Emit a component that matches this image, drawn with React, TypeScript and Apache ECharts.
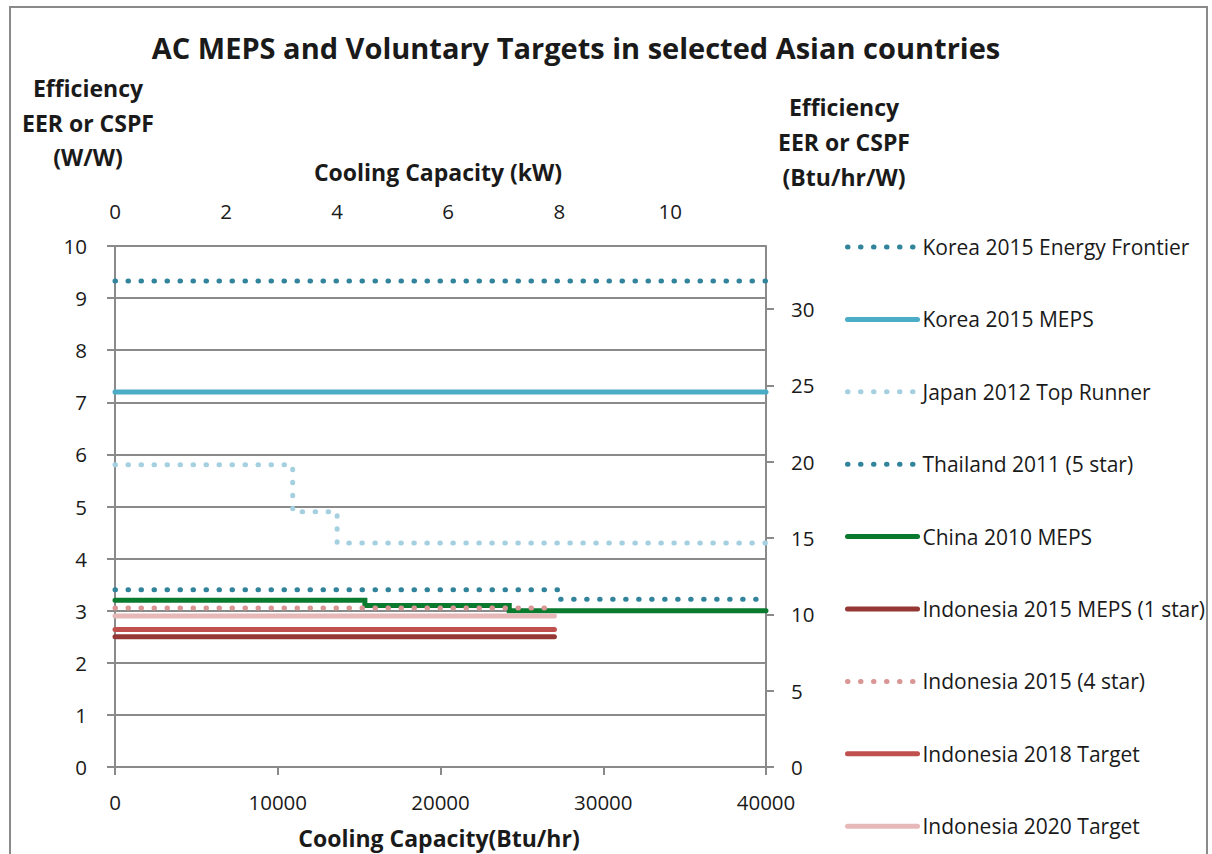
import React, { useEffect, useRef } from 'react';
import * as echarts from 'echarts';

// Capacity break points (Btu/hr) and efficiency levels (W/W) per series
const seriesNames = [
  'Korea 2015 Energy Frontier',
  'Korea 2015 MEPS',
  'Japan 2012 Top Runner',
  'Thailand 2011 (5 star)',
  'China 2010 MEPS',
  'Indonesia 2015 MEPS (1 star)',
  'Indonesia 2015 (4 star)',
  'Indonesia 2018 Target',
  'Indonesia 2020 Target',
];
const koreaFrontierX = [0, 40000];
const koreaFrontierY = [9.33];
const koreaMepsX = [0, 40000];
const koreaMepsY = [7.2];
const japanX = [0, 10918, 13648, 40000];
const japanY = [5.8, 4.9, 4.3];
const thailandX = [0, 27297, 40000];
const thailandY = [3.4, 3.22];
const chinaX = [0, 15354, 24225, 40000];
const chinaY = [3.2, 3.1, 3.0];
const indoMepsX = [0, 27000];
const indoMepsY = [2.5];
const indo4StarX = [0, 27000];
const indo4StarY = [3.05];
const indo2018X = [0, 27000];
const indo2018Y = [2.64];
const indo2020X = [0, 27000];
const indo2020Y = [2.9];

const BTU_PER_KW = 3412.14;
const BTU_PER_W = 3.41214;
const X_MAX = 40000;
const Y_MAX = 10;

const FONT = '"Open Sans", "Noto Sans", sans-serif';

function steps(xs: number[], ys: number[]) {
  const pts: number[][] = [];
  ys.forEach((y, i) => {
    pts.push([xs[i], y]);
    pts.push([xs[i + 1], y]);
  });
  return pts;
}

const DOT = { type: [0.5, 12.5] as any, cap: 'round' as const, width: 5 };

export default function App() {
  const ref = useRef<HTMLDivElement>(null);
  useEffect(() => {
    const chart = echarts.init(ref.current!, null, { renderer: 'svg' });
    const grid = '#8a8a8a';
    const ink = '#1a1a1a';
    const mk = (name: string, xs: number[], ys: number[], color: string, dotted: boolean) => ({
      name,
      type: 'line',
      xAxisIndex: 0,
      yAxisIndex: 0,
      symbol: 'none',
      data: steps(xs, ys),
      color,
      lineStyle: dotted
        ? { color, ...DOT }
        : { color, width: 5, cap: 'round', join: 'miter' },
    });
    const txt = (x: number, y: number, text: string, size: number) => ({
      type: 'text',
      x,
      y,
      style: { text, font: `bold ${size}px ${FONT}`, fill: ink, textAlign: 'center', textVerticalAlign: 'middle' },
    });
    chart.setOption({
      animation: false,
      backgroundColor: '#fff',
      grid: { left: 115, right: 446, top: 246, bottom: 87, containLabel: false },
      graphic: [
        {
          type: 'rect',
          shape: { x: 10, y: 7, width: 1197, height: 860 },
          style: { fill: 'none', stroke: '#8a8a8a', lineWidth: 2 },
          silent: true,
        },
        txt(576, 47, 'AC MEPS and Voluntary Targets in selected Asian countries', 29),
        txt(88, 88, 'Efficiency', 23),
        txt(88, 123, 'EER or CSPF', 23),
        txt(88, 157, '(W/W)', 23),
        txt(844, 107, 'Efficiency', 23),
        txt(844, 142, 'EER or CSPF', 23),
        txt(844, 177, '(Btu/hr/W)', 23),
        txt(438, 172, 'Cooling Capacity (kW)', 23),
        txt(439, 838, 'Cooling Capacity(Btu/hr)', 23),
      ],
      legend: {
        orient: 'vertical',
        left: 845,
        top: 236,
        padding: 0,
        itemWidth: 70,
        itemHeight: 14,
        itemGap: 50.4,
        data: seriesNames,
        itemStyle: { opacity: 0 },
        lineStyle: { width: 5 },
        textStyle: { fontFamily: FONT, fontSize: 21, color: ink, lineHeight: 22 },
      },
      xAxis: [
        {
          type: 'value',
          position: 'bottom',
          min: 0,
          max: X_MAX,
          interval: 10000,
          axisLine: { show: true, onZero: false, lineStyle: { color: grid, width: 2 } },
          axisTick: { show: true, length: 8, lineStyle: { color: grid, width: 2 } },
          axisLabel: {
            margin: 24,
            fontFamily: FONT,
            fontSize: 20.5,
            color: ink,
            formatter: (v: number) => String(v),
          },
          splitLine: { show: false },
        },
        {
          type: 'value',
          position: 'top',
          min: 0,
          max: X_MAX / BTU_PER_KW,
          interval: 2,
          axisLine: { show: false },
          axisTick: { show: false },
          axisLabel: {
            margin: 25,
            fontFamily: FONT,
            fontSize: 20.5,
            color: ink,
            showMaxLabel: false,
            formatter: (v: number) => String(Math.round(v)),
          },
          splitLine: { show: false },
        },
      ],
      yAxis: [
        {
          type: 'value',
          position: 'left',
          min: 0,
          max: Y_MAX,
          interval: 1,
          axisLine: { show: true, onZero: false, lineStyle: { color: grid, width: 2 } },
          axisTick: { show: true, length: 8, lineStyle: { color: grid, width: 2 } },
          axisLabel: { margin: 28, fontFamily: FONT, fontSize: 20.5, color: ink },
          splitLine: { show: true, lineStyle: { color: grid, width: 2 } },
        },
        {
          type: 'value',
          position: 'right',
          min: 0,
          max: Y_MAX * BTU_PER_W,
          interval: 5,
          axisLine: { show: true, onZero: false, lineStyle: { color: grid, width: 2 } },
          axisTick: { show: true, length: 8, lineStyle: { color: grid, width: 2 } },
          axisLabel: { margin: 25, fontFamily: FONT, fontSize: 20.5, color: ink, showMaxLabel: false },
          splitLine: { show: false },
        },
      ],
      series: [
        mk(seriesNames[0], koreaFrontierX, koreaFrontierY, '#31849B', true),
        mk(seriesNames[1], koreaMepsX, koreaMepsY, '#4BACC6', false),
        mk(seriesNames[2], japanX, japanY, '#A5D0E0', true),
        mk(seriesNames[3], thailandX, thailandY, '#31849B', true),
        mk(seriesNames[4], chinaX, chinaY, '#0A7A2E', false),
        mk(seriesNames[5], indoMepsX, indoMepsY, '#953735', false),
        mk(seriesNames[6], indo4StarX, indo4StarY, '#D99694', true),
        mk(seriesNames[7], indo2018X, indo2018Y, '#C0504D', false),
        mk(seriesNames[8], indo2020X, indo2020Y, '#E6B9B8', false),
      ],
    });
    return () => chart.dispose();
  }, []);
  return (
    <div
      ref={ref}
      style={{ position: 'absolute', left: 0, top: 0, width: 1212, height: 854 }}
    />
  );
}
